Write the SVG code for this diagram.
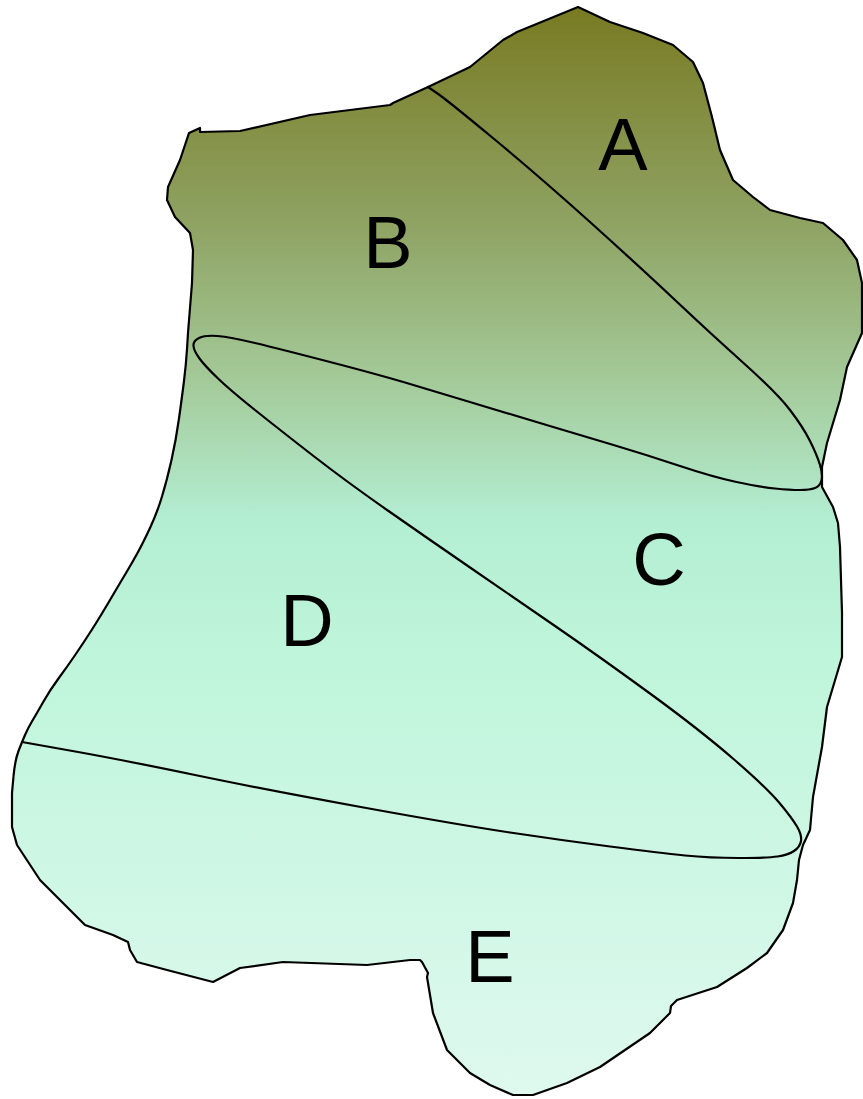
<svg xmlns="http://www.w3.org/2000/svg" width="863" height="1099" viewBox="0 0 863 1099">
<defs>
<linearGradient id="g" gradientUnits="userSpaceOnUse" x1="0" y1="6" x2="0" y2="1099">
<stop offset="0" stop-color="#787a22"/>
<stop offset="0.2" stop-color="#8fa363"/>
<stop offset="0.35" stop-color="#a5cc9c"/>
<stop offset="0.47" stop-color="#b3eed3"/>
<stop offset="0.6" stop-color="#bff5db"/>
<stop offset="1" stop-color="#dff9ef"/>
</linearGradient>
<style>
.outline{fill:url(#g);stroke:#000;stroke-width:2.2;stroke-linejoin:round}
.line{fill:none;stroke:#000;stroke-width:2.2;stroke-linejoin:round;stroke-linecap:round}
.lbl{font-family:"Liberation Sans",Arial,sans-serif;font-size:74px;fill:#000;text-anchor:middle}
</style>
</defs>
<g id="outline">
<path class="outline" d="M578,7 L610,22 L643,33 L673,45 L693,62 L703,83 L712,117 L720,150 L733,180 L753,197 L770,210 L800,218 L823,223 L843,240 L857,260 L862,283 L862,333 L847,367 L840,400 L827,443 L822,467 L822,487 L833,507 L838,523 L840,547 L842,613 L842,657 L833,687 L827,707 L822,747 L813,797 L810,830 L803,845 L799,860 L797,880 L793,903 L783,930 L767,953 L747,968 L717,987 L677,1000 L671,1006 L670,1013 L650,1033 L600,1067 L567,1083 L533,1095 L513,1095 L490,1085 L470,1073 L447,1050 L433,1013 L427,977 L428,973 L422,962 L420,960 L410,960 L367,965 L283,962 L240,968 L213,982 L167,970 L137,962 L130,950 L128,942 L113,935 L85,925 L60,900 L40,880 L17,845 L12,827 L12,793 L13.5,776.5 Q15,760 18.5,751 Q22,742 25,735 Q28,728 32.5,720.5 Q37,713 43.5,701.5 Q50,690 58.5,678.5 Q67,667 75.5,654.5 Q84,642 92,629.5 Q100,617 110,600 Q120,583 126,573 Q132,563 137.5,553 Q143,543 150,528 Q157,513 162,496.5 Q167,480 171.5,460 Q176,440 179,418.5 Q182,397 184,381 Q186,365 187,349 L188,333 L192,283 L193,250 L190,233 L175,217 L167,200 L168,187 L180,160 L189,133 L200,128 L200,132 L240,131 L310,115 L390,105 L393,103 L428,87 L470,67 L503,40 L517,32 Z"/>
</g>
<g id="connectors">
<path class="line" d="M428,87 L437.5,93.5 Q447,100 493.5,138.5 Q540,177 590,222 Q640,267 675,300 Q710,333 743.5,363 Q777,393 790,410 Q803,427 810,441 Q817,455 820,465 Q823,475 821.5,480.5 Q820,486 815,488 Q810,490 800,490 Q790,490 775,488.5 Q760,487 736.5,482 Q713,477 680,466 Q647,455 613.5,445 Q580,435 546.5,425 Q513,415 476.5,404 Q440,393 410,384 Q380,375 330,362 Q280,349 255,343 Q230,337 217.5,336 Q205,335 199,338 Q193,341 193.5,346 Q194,351 199.5,358.5 Q205,366 217.5,378 Q230,390 255,410 Q280,430 313.5,456 Q347,482 388.5,511 Q430,540 471.5,568.5 Q513,597 556.5,627 Q600,657 650,693.5 Q700,730 733.5,759 Q767,788 779.5,803 Q792,818 797,826.5 Q802,835 801,841 Q800,847 794,851 Q788,855 777.5,856.5 Q767,858 738.5,858 Q710,858 685,855.5 Q660,853 610,846.5 Q560,840 510,832.5 Q460,825 363.5,807.5 Q267,790 195,775 Q123,760 72.5,751 L22,742"/>
</g>
<g id="label-A"><text class="lbl" x="623" y="170">A</text></g>
<g id="label-B"><text class="lbl" x="388" y="268">B</text></g>
<g id="label-C"><text class="lbl" x="659" y="585">C</text></g>
<g id="label-D"><text class="lbl" x="307" y="646">D</text></g>
<g id="label-E"><text class="lbl" x="490" y="982">E</text></g>
</svg>
